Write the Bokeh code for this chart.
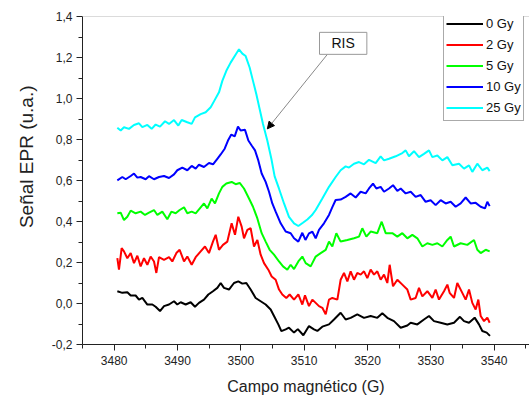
from bokeh.plotting import figure
from bokeh.models import (FixedTicker, CustomJSTickFormatter, Legend, LegendItem,
                          Label, Arrow, NormalHead, Span, Range1d, ColumnDataSource, Title)
from bokeh.embed import file_html
from bokeh.resources import INLINE

FONT = "Liberation Sans"

series_labels = ["0 Gy", "2 Gy", "5 Gy", "10 Gy", "25 Gy"]
series_colors = ["#000000", "#ff0000", "#00ff00", "#0000ff", "#00ffff"]

x_ticks = [3480, 3490, 3500, 3510, 3520, 3530, 3540]
y_ticks = [-0.2, 0.0, 0.2, 0.4, 0.6, 0.8, 1.0, 1.2, 1.4]

x_title = "Campo magnético (G)"
y_title = "Señal EPR (u.a.)"

# 0 Gy
field_0 = [3480.5, 3481.29, 3482.08, 3482.61, 3483.39, 3483.92, 3484.45, 3485.24, 3486.03, 3486.55,
           3487.24, 3487.87, 3488.66, 3489.45, 3489.97, 3490.5, 3491.29, 3492.08, 3492.76, 3493.39,
           3494.18, 3494.87, 3495.6, 3496.29, 3496.82, 3497.34, 3498.13, 3498.92, 3499.6, 3500.24,
           3500.87, 3501.55, 3502.34, 3503.13, 3503.92, 3504.71, 3505.24, 3505.92, 3506.4, 3507.08,
           3507.6, 3508.4, 3509.0, 3509.87, 3510.76, 3511.55, 3512.08, 3512.87, 3513.92, 3514.71,
           3515.76, 3516.55, 3517.34, 3518.39, 3519.45, 3520.5, 3521.55, 3522.34, 3523.13, 3524.18,
           3525.24, 3526.29, 3526.82, 3527.87, 3528.92, 3529.71, 3530.5, 3531.55, 3532.6, 3533.66,
           3534.6, 3535.24, 3536.03, 3536.92, 3537.6, 3538.13, 3538.82, 3539.34]
signal_0 = [0.060, 0.052, 0.055, 0.039, 0.039, 0.019, 0.027, -0.005, -0.005, -0.016,
            -0.037, -0.013, -0.005, 0.011, -0.005, 0.006, -0.005, 0.006, -0.016, 0.003,
            0.019, 0.044, 0.060, 0.076, 0.100, 0.076, 0.068, 0.100, 0.108, 0.097,
            0.100, 0.068, 0.027, 0.011, -0.005, -0.029, -0.061, -0.102, -0.135, -0.126,
            -0.118, -0.142, -0.125, -0.155, -0.110, -0.126, -0.134, -0.113, -0.102, -0.078,
            -0.045, -0.078, -0.070, -0.053, -0.070, -0.061, -0.070, -0.048, -0.070, -0.086,
            -0.118, -0.107, -0.094, -0.102, -0.078, -0.061, -0.086, -0.094, -0.102, -0.094,
            -0.065, -0.086, -0.094, -0.069, -0.102, -0.134, -0.142, -0.158]

# 2 Gy
field_2 = [3480.50, 3480.76, 3481.18, 3481.55, 3482.08, 3482.61, 3483.13, 3483.66, 3484.18, 3484.71,
           3485.24, 3485.76, 3486.29, 3486.66, 3487.08, 3487.87, 3488.66, 3489.18, 3489.82, 3490.34,
           3491.03, 3491.55, 3492.24, 3492.87, 3493.66, 3494.34, 3494.97, 3495.60, 3496.03, 3496.55,
           3497.18, 3497.87, 3498.55, 3499.08, 3499.60, 3500.13, 3500.50, 3501.03, 3501.55, 3502.08,
           3502.61, 3503.13, 3503.66, 3504.34, 3504.87, 3505.50, 3506.03, 3506.55, 3507.18, 3507.71,
           3508.40, 3509.08, 3509.71, 3510.13, 3510.76, 3511.29, 3511.82, 3512.34, 3512.87, 3513.40,
           3513.92, 3514.45, 3515.24, 3515.76, 3516.29, 3516.82, 3517.34, 3517.87, 3518.39, 3518.92,
           3519.45, 3519.97, 3520.50, 3521.03, 3521.55, 3522.08, 3522.61, 3523.13, 3523.50, 3524.03,
           3524.71, 3525.50, 3526.29, 3526.82, 3527.60, 3528.13, 3528.66, 3529.45, 3530.24, 3530.76,
           3531.29, 3532.08, 3532.61, 3532.97, 3533.66, 3534.18, 3534.97, 3535.50, 3536.03, 3536.55,
           3537.08, 3537.50, 3537.87, 3538.40, 3538.92, 3539.29]
signal_2 = [0.221, 0.165, 0.270, 0.254, 0.221, 0.246, 0.197, 0.233, 0.181, 0.221,
            0.189, 0.229, 0.205, 0.149, 0.226, 0.213, 0.226, 0.205, 0.246, 0.262,
            0.205, 0.229, 0.189, 0.226, 0.254, 0.278, 0.246, 0.302, 0.335, 0.262,
            0.286, 0.302, 0.391, 0.335, 0.423, 0.375, 0.318, 0.359, 0.367, 0.278,
            0.310, 0.238, 0.197, 0.165, 0.132, 0.116, 0.068, 0.044, 0.027, 0.044,
            0.019, 0.044, -0.005, 0.040, -0.013, 0.019, 0.003, -0.013, -0.021, -0.053,
            0.019, 0.027, 0.019, 0.116, 0.149, 0.108, 0.157, 0.116, 0.149, 0.141,
            0.157, 0.124, 0.165, 0.141, 0.157, 0.116, 0.141, 0.100, 0.189, 0.084,
            0.116, 0.092, 0.068, 0.019, 0.027, 0.076, 0.035, 0.060, 0.027, 0.068,
            0.019, 0.060, 0.092, 0.052, 0.027, 0.100, 0.052, 0.019, 0.068, 0.003,
            -0.029, 0.019, -0.061, -0.086, -0.069, -0.094]

# 5 Gy
field_5 = [3480.50, 3481.03, 3481.55, 3482.08, 3482.61, 3483.39, 3484.18, 3484.87, 3485.50, 3486.29,
           3486.82, 3487.60, 3488.39, 3489.03, 3489.71, 3490.34, 3491.03, 3491.55, 3492.24, 3492.87,
           3493.66, 3494.18, 3494.71, 3495.39, 3495.92, 3496.55, 3497.08, 3497.71, 3498.55, 3499.18,
           3499.82, 3500.50, 3501.29, 3501.92, 3502.61, 3503.29, 3503.92, 3504.55, 3505.24, 3506.03,
           3506.66, 3507.34, 3507.87, 3508.40, 3509.08, 3509.71, 3510.24, 3511.03, 3511.82, 3512.61,
           3513.40, 3513.92, 3514.45, 3515.08, 3515.76, 3516.82, 3517.87, 3518.66, 3519.18, 3519.82,
           3520.50, 3521.55, 3522.24, 3522.87, 3523.92, 3524.71, 3525.50, 3526.29, 3527.08, 3527.87,
           3528.66, 3529.45, 3530.24, 3531.03, 3531.82, 3532.61, 3533.13, 3533.66, 3534.71, 3535.76,
           3536.82, 3537.34, 3537.87, 3538.66, 3539.29]
signal_5 = [0.440, 0.443, 0.407, 0.423, 0.453, 0.440, 0.448, 0.432, 0.443, 0.456,
            0.432, 0.448, 0.411, 0.448, 0.440, 0.456, 0.469, 0.440, 0.448, 0.440,
            0.469, 0.488, 0.464, 0.512, 0.488, 0.537, 0.569, 0.585, 0.593, 0.582,
            0.588, 0.561, 0.512, 0.472, 0.415, 0.343, 0.302, 0.262, 0.238, 0.205,
            0.181, 0.165, 0.189, 0.168, 0.205, 0.229, 0.197, 0.181, 0.229, 0.246,
            0.262, 0.302, 0.278, 0.343, 0.302, 0.310, 0.318, 0.326, 0.367, 0.326,
            0.351, 0.343, 0.399, 0.343, 0.343, 0.326, 0.343, 0.318, 0.335, 0.318,
            0.278, 0.294, 0.286, 0.294, 0.278, 0.310, 0.326, 0.278, 0.294, 0.286,
            0.310, 0.262, 0.246, 0.262, 0.254]

# 10 Gy
field_10 = [3480.50, 3481.29, 3481.82, 3482.61, 3483.13, 3483.66, 3484.18, 3484.97, 3485.50, 3486.29,
            3487.08, 3487.87, 3488.66, 3489.45, 3489.97, 3490.76, 3491.55, 3492.24, 3492.87, 3493.39,
            3494.18, 3494.97, 3495.61, 3496.29, 3496.82, 3497.45, 3497.97, 3498.50, 3499.03, 3499.55,
            3499.97, 3500.66, 3501.19, 3501.71, 3502.24, 3502.76, 3503.29, 3503.92, 3504.45, 3504.97,
            3505.50, 3506.29, 3507.08, 3507.87, 3508.40, 3509.08, 3509.71, 3510.20, 3510.76, 3511.30,
            3511.82, 3512.34, 3513.13, 3513.92, 3514.45, 3514.97, 3515.76, 3516.55, 3517.34, 3518.13,
            3518.92, 3519.71, 3520.24, 3520.87, 3521.40, 3522.08, 3522.61, 3523.40, 3524.03, 3524.71,
            3525.24, 3526.03, 3526.82, 3527.60, 3528.40, 3529.18, 3529.97, 3530.76, 3531.55, 3532.34,
            3533.13, 3533.92, 3534.71, 3535.50, 3536.29, 3537.08, 3537.87, 3538.55, 3538.92, 3539.29]
signal_10 = [0.601, 0.617, 0.606, 0.622, 0.634, 0.614, 0.617, 0.606, 0.621, 0.606,
             0.617, 0.622, 0.612, 0.630, 0.650, 0.663, 0.650, 0.671, 0.658, 0.677,
             0.666, 0.685, 0.679, 0.706, 0.727, 0.755, 0.795, 0.824, 0.815, 0.863,
             0.844, 0.847, 0.795, 0.771, 0.747, 0.698, 0.634, 0.593, 0.545, 0.488,
             0.448, 0.391, 0.351, 0.343, 0.318, 0.302, 0.345, 0.310, 0.342, 0.350,
             0.318, 0.359, 0.391, 0.432, 0.470, 0.505, 0.507, 0.520, 0.537, 0.517,
             0.545, 0.537, 0.561, 0.585, 0.561, 0.569, 0.545, 0.561, 0.577, 0.549,
             0.561, 0.537, 0.545, 0.520, 0.529, 0.496, 0.504, 0.480, 0.504, 0.488,
             0.496, 0.472, 0.488, 0.517, 0.488, 0.491, 0.472, 0.464, 0.496, 0.475]

# 25 Gy
field_25 = [3480.50, 3481.03, 3481.55, 3482.34, 3483.13, 3483.92, 3484.45, 3485.24, 3485.92, 3486.55,
            3487.24, 3488.03, 3488.66, 3489.45, 3490.13, 3490.66, 3491.55, 3492.24, 3492.76, 3493.66,
            3494.45, 3495.24, 3495.76, 3496.55, 3497.08, 3497.71, 3498.39, 3499.19, 3499.71, 3500.24,
            3500.76, 3501.39, 3501.92, 3502.45, 3502.97, 3503.50, 3504.18, 3504.82, 3505.34, 3506.03,
            3506.82, 3507.60, 3508.40, 3509.08, 3509.80, 3510.50, 3511.20, 3511.82, 3512.87, 3513.92,
            3514.97, 3515.76, 3516.55, 3517.08, 3517.87, 3518.66, 3519.45, 3520.24, 3521.29, 3522.08,
            3522.61, 3523.40, 3524.45, 3525.50, 3526.03, 3526.55, 3527.34, 3528.13, 3528.92, 3529.71,
            3530.24, 3531.03, 3531.82, 3532.61, 3533.40, 3534.45, 3535.24, 3536.03, 3536.55, 3537.34,
            3538.13, 3538.92, 3539.29]
signal_25 = [0.857, 0.844, 0.860, 0.852, 0.871, 0.879, 0.860, 0.871, 0.852, 0.873,
             0.863, 0.889, 0.876, 0.895, 0.868, 0.895, 0.884, 0.876, 0.908, 0.924,
             0.933, 0.957, 0.986, 1.030, 1.086, 1.135, 1.175, 1.215, 1.240, 1.219,
             1.207, 1.151, 1.086, 1.021, 0.949, 0.876, 0.795, 0.706, 0.620, 0.560,
             0.488, 0.423, 0.391, 0.378, 0.394, 0.410, 0.430, 0.456, 0.512, 0.569,
             0.617, 0.650, 0.669, 0.663, 0.682, 0.690, 0.679, 0.701, 0.685, 0.718,
             0.698, 0.706, 0.718, 0.734, 0.747, 0.718, 0.743, 0.714, 0.730, 0.747,
             0.714, 0.722, 0.698, 0.714, 0.674, 0.682, 0.658, 0.674, 0.642, 0.682,
             0.650, 0.663, 0.646]

fields = [field_0, field_2, field_5, field_10, field_25]
signals = [signal_0, signal_2, signal_5, signal_10, signal_25]

# annotation "RIS" (data coordinates)
ris_label_x, ris_label_y = 3516.16, 1.269
ris_arrow_start = (3513.66, 1.215)
ris_arrow_end = (3504.19, 0.852)

p = figure(width=529, height=397, output_backend="svg", toolbar_location=None,
           x_range=Range1d(3475, 3545.58), y_range=Range1d(-0.2, 1.4),
           min_border_left=82, min_border_right=0, min_border_top=16, min_border_bottom=51,
           background_fill_color="white", border_fill_color="white")
p.outline_line_color = None
p.xgrid.visible = False
p.ygrid.visible = False

renderers = []
for fx, sy, col in zip(fields, signals, series_colors):
    src = ColumnDataSource(dict(x=fx, y=sy))
    r = p.line("x", "y", source=src, line_color=col, line_width=2)
    renderers.append(r)

fmt = CustomJSTickFormatter(code="""
    if (Math.abs(tick) < 1e-9) { return '0,0'; }
    return tick.toFixed(1).replace('.', ',');
""")

for ax in p.xaxis:
    ax.ticker = FixedTicker(ticks=x_ticks, minor_ticks=[t - 5 for t in x_ticks] + [x_ticks[-1] + 5])
    ax.axis_label = x_title
for ax in p.yaxis:
    ax.ticker = FixedTicker(ticks=y_ticks, minor_ticks=[round(t + 0.1, 2) for t in y_ticks[:-1]])
    ax.formatter = fmt

for ax in p.xaxis + p.yaxis:
    ax.axis_line_color = "#222222"
    ax.major_tick_line_color = "#222222"
    ax.minor_tick_line_color = "#222222"
    ax.major_tick_out = 6
    ax.major_tick_in = 0
    ax.minor_tick_out = 4
    ax.minor_tick_in = 0
    ax.major_label_text_font = FONT
    ax.major_label_text_font_size = "12px"
    ax.major_label_text_color = "#222222"
    ax.axis_label_text_font = FONT
    ax.axis_label_text_font_style = "normal"
    ax.axis_label_text_color = "#222222"

p.xaxis.major_label_standoff = 5
p.yaxis.major_label_standoff = 4
p.xaxis.axis_label_text_font_size = "16px"
p.xaxis.axis_label_standoff = 10

# y-axis title as a side title (sits above the frame's centre in the reference)
p.add_layout(Title(text=y_title, align="right", offset=69, standoff=24,
                   text_font=FONT, text_font_size="19px", text_font_style="normal",
                   text_color="#222222"), "left")

top_line = Span(location=1.4, dimension="width", line_color="#b8b8b8", line_width=1)
p.add_layout(top_line)

items = [LegendItem(label=lab, renderers=[r]) for lab, r in zip(series_labels, renderers)]
legend = Legend(items=items, location=(361, 223), glyph_width=37, glyph_height=21,
                label_height=21, spacing=0, padding=2, margin=0, label_standoff=3,
                label_text_font=FONT, label_text_font_size="13px", label_text_color="#111111",
                border_line_color="#555555", border_line_width=1,
                background_fill_color="white", background_fill_alpha=1)
p.add_layout(legend)

p.add_layout(Arrow(end=NormalHead(size=7, fill_color="black", line_color="black"),
                   x_start=ris_arrow_start[0], y_start=ris_arrow_start[1],
                   x_end=ris_arrow_end[0], y_end=ris_arrow_end[1],
                   line_color="#888888", line_width=1))
p.add_layout(Label(x=ris_label_x, y=ris_label_y, text="RIS", text_align="center",
                   text_baseline="middle", text_font=FONT, text_font_size="14px",
                   text_color="#111111", border_line_color="#999999", border_line_width=1,
                   background_fill_color="white",
                   padding=dict(left=12, right=12, top=3, bottom=3)))

open("out.html", "w").write(file_html(p, INLINE))
